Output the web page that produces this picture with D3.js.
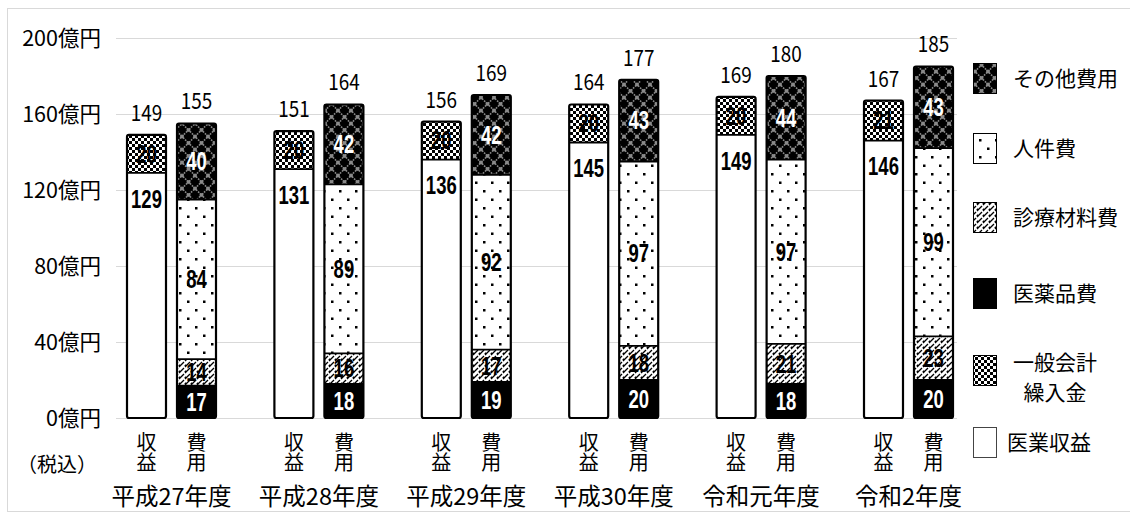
<!DOCTYPE html>
<html lang="ja">
<head>
<meta charset="utf-8">
<script src="https://cdn.jsdelivr.net/npm/d3@7"></script>
<style>
  html, body { margin: 0; padding: 0; background: #fff; }
  svg { display: block; font-family: "Noto Sans CJK JP", "Noto Sans", sans-serif; }
</style>
</head>
<body>
<svg id="chart" width="1130" height="516"></svg>
<script>
// 年度別 収益・費用の内訳（億円、税込）
const years = ["平成27年度", "平成28年度", "平成29年度", "平成30年度", "令和元年度", "令和2年度"];
const barKinds = ["収益", "費用"];

// 収益の内訳
const iryoShueki = [129, 131, 136, 145, 149, 146];   // 医業収益
const ippanKuriire = [20, 20, 20, 20, 20, 21];       // 一般会計繰入金
const shuekiTotal = [149, 151, 156, 164, 169, 167];

// 費用の内訳
const iyakuhin = [17, 18, 19, 20, 18, 20];           // 医薬品費
const shinryoZairyo = [14, 16, 17, 18, 21, 23];      // 診療材料費
const jinken = [84, 89, 92, 97, 97, 99];             // 人件費
const sonota = [40, 42, 42, 43, 44, 43];             // その他費用
const hiyoTotal = [155, 164, 169, 177, 180, 185];

const yTicks = [0, 40, 80, 120, 160, 200];

const svg = d3.select("#chart");
const defs = svg.append("defs");

// ---- fill patterns ----
// 一般会計繰入金: fine checkerboard
const pChk = defs.append("pattern").attr("id", "pChk").attr("patternUnits", "userSpaceOnUse")
  .attr("width", 6).attr("height", 6);
pChk.append("rect").attr("width", 6).attr("height", 6).attr("fill", "#fff");
pChk.append("rect").attr("width", 3).attr("height", 3).attr("fill", "#000");
pChk.append("rect").attr("x", 3).attr("y", 3).attr("width", 3).attr("height", 3).attr("fill", "#000");

// 人件費: sparse staggered dots
const pDot = defs.append("pattern").attr("id", "pDot").attr("patternUnits", "userSpaceOnUse")
  .attr("width", 16).attr("height", 17);
pDot.append("rect").attr("width", 16).attr("height", 17).attr("fill", "#fff");
pDot.append("rect").attr("x", 3).attr("y", 3).attr("width", 2.5).attr("height", 2.5).attr("fill", "#000");
pDot.append("rect").attr("x", 11).attr("y", 11.5).attr("width", 2.5).attr("height", 2.5).attr("fill", "#000");

// 診療材料費: dashed diagonal hatch
const pHat = defs.append("pattern").attr("id", "pHat").attr("patternUnits", "userSpaceOnUse")
  .attr("width", 6).attr("height", 6);
pHat.append("rect").attr("width", 6).attr("height", 6).attr("fill", "#fff");
pHat.append("path").attr("d", "M0,6 L4,2 M5,1 L6,0 M-1,1 L1,-1 M4,7 L7,4")
  .attr("stroke", "#000").attr("stroke-width", 1.3);

// その他費用: black with grey diamond lattice
const pDia = defs.append("pattern").attr("id", "pDia").attr("patternUnits", "userSpaceOnUse")
  .attr("width", 13).attr("height", 13);
pDia.append("rect").attr("width", 13).attr("height", 13).attr("fill", "#000");
pDia.append("path").attr("d", "M0,6.5 L6.5,0 L13,6.5 L6.5,13 Z")
  .attr("fill", "none").attr("stroke", "#8a8a8a").attr("stroke-width", 1.6)
  .attr("stroke-dasharray", "1.6,1.2");
[[0, 6.5], [13, 6.5], [6.5, 0], [6.5, 13]].forEach(([cx, cy]) =>
  pDia.append("rect").attr("x", cx - 1.8).attr("y", cy - 1.8).attr("width", 3.6).attr("height", 3.6)
    .attr("fill", "#8a8a8a"));

const fills = {
  "医業収益": "#fff",
  "一般会計繰入金": "url(#pChk)",
  "医薬品費": "#000",
  "診療材料費": "url(#pHat)",
  "人件費": "url(#pDot)",
  "その他費用": "url(#pDia)"
};
const whiteText = new Set(["医薬品費", "その他費用"]);

// ---- frame ----
svg.append("rect").attr("x", 7.5).attr("y", 8.5).attr("width", 1140).attr("height", 503)
  .attr("fill", "none").attr("stroke", "#d9d9d9");

// ---- scales ----
const y = d3.scaleLinear().domain([0, 200]).range([418, 38]);
const x = d3.scaleBand().domain(years).range([97.8, 982.2]);
const xs = d3.scaleBand().domain(barKinds).range([-44.5, 44.5]).paddingInner(0.22);
const gridL = 116, gridR = 957;

// ---- gridlines ----
svg.append("g").selectAll("line").data(yTicks).join("line")
  .attr("x1", gridL).attr("x2", gridR)
  .attr("y1", d => Math.round(y(d)) + 0.5).attr("y2", d => Math.round(y(d)) + 0.5)
  .attr("stroke", "#d9d9d9").attr("stroke-width", 1);

// ---- y axis labels ----
const yAxis = d3.axisLeft(y).tickValues(yTicks).tickSize(0).tickPadding(0)
  .tickFormat(d => d + "億円");
const gy = svg.append("g").attr("transform", "translate(101,0)").call(yAxis);
gy.select(".domain").remove();
gy.selectAll("text").attr("font-size", 21.5).attr("fill", "#000")
  .attr("font-family", "'Noto Sans CJK JP', sans-serif").attr("dy", "0.36em");

// ---- stacked bars ----
const segs = [];
years.forEach((yr, i) => {
  const stacks = {
    "収益": [["医業収益", iryoShueki[i]], ["一般会計繰入金", ippanKuriire[i]]],
    "費用": [["医薬品費", iyakuhin[i]], ["診療材料費", shinryoZairyo[i]], ["人件費", jinken[i]], ["その他費用", sonota[i]]]
  };
  barKinds.forEach(k => {
    let base = 0;
    stacks[k].forEach(([name, v]) => {
      segs.push({ yr, k, name, v, y0: base, y1: base + v });
      base += v;
    });
  });
});

const barX = d => x(d.yr) + x.bandwidth() / 2 + xs(d.k);
const gBars = svg.append("g");
gBars.selectAll("rect").data(segs).join("rect")
  .attr("x", d => barX(d))
  .attr("width", xs.bandwidth())
  .attr("y", d => y(d.y1))
  .attr("height", d => y(d.y0) - y(d.y1))
  .attr("fill", d => fills[d.name]);

// bar outlines and segment dividers
const outlines = [];
years.forEach((yr, i) => {
  const s1 = iryoShueki[i] + ippanKuriire[i];
  const s2 = iyakuhin[i] + shinryoZairyo[i] + jinken[i] + sonota[i];
  outlines.push({ yr, k: "収益", top: s1, label: shuekiTotal[i], segs: [iryoShueki[i]] });
  outlines.push({ yr, k: "費用", top: s2, label: hiyoTotal[i], segs: [iyakuhin[i], iyakuhin[i] + shinryoZairyo[i], iyakuhin[i] + shinryoZairyo[i] + jinken[i]] });
});
gBars.selectAll("line.div").data(outlines.flatMap(o => o.segs.map(v => ({ ...o, v })))).join("line")
  .attr("class", "div")
  .attr("x1", d => barX(d)).attr("x2", d => barX(d) + xs.bandwidth())
  .attr("y1", d => y(d.v)).attr("y2", d => y(d.v))
  .attr("stroke", "#000").attr("stroke-width", 1.8);
gBars.selectAll("rect.out").data(outlines).join("rect")
  .attr("class", "out")
  .attr("x", d => barX(d))
  .attr("width", xs.bandwidth())
  .attr("y", d => y(d.top))
  .attr("height", d => y(0) - y(d.top))
  .attr("rx", 2)
  .attr("fill", "none").attr("stroke", "#000").attr("stroke-width", 2.2);

// ---- segment value labels (bold, condensed) ----
const gLab = svg.append("g");
gLab.selectAll("text").data(segs).join("text")
  .attr("transform", d => {
    const cx = barX(d) + xs.bandwidth() / 2;
    const cy = d.name === "医業収益" ? y(d.y1) + 26 : (y(d.y0) + y(d.y1)) / 2;
    return `translate(${cx},${cy}) scale(0.74,1)`;
  })
  .attr("text-anchor", "middle").attr("dy", "0.35em")
  .attr("font-family", "'Liberation Sans', Arial, sans-serif")
  .attr("font-size", 25).attr("font-weight", "bold")
  .attr("fill", d => whiteText.has(d.name) ? "#fff" : "#000")
  .text(d => d.v);

// ---- totals above bars ----
gLab.selectAll("text.tot").data(outlines).join("text")
  .attr("class", "tot")
  .attr("transform", d => `translate(${barX(d) + xs.bandwidth() / 2},${y(d.top) - 22}) scale(0.86,1)`)
  .attr("text-anchor", "middle").attr("dy", "0.36em")
  .attr("font-size", 22).attr("fill", "#000")
  .text(d => d.label);

// ---- x labels ----
const gX = svg.append("g").attr("font-size", 20).attr("fill", "#000");
years.forEach(yr => {
  barKinds.forEach(k => {
    const cx = x(yr) + x.bandwidth() / 2 + xs(k) + xs.bandwidth() / 2;
    gX.append("text")
      .attr("transform", `translate(${cx},432)`)
      .style("writing-mode", "vertical-rl")
      .attr("text-anchor", "start")
      .text(k);
  });
  gX.append("text").attr("x", x(yr) + x.bandwidth() / 2).attr("y", 497).attr("dy", "0.36em")
    .attr("text-anchor", "middle").attr("font-size", 23.5).text(yr);
});
gX.append("text").attr("x", 57).attr("y", 465).attr("dy", "0.36em")
  .attr("text-anchor", "middle").attr("font-size", 20).text("（税込）");

// ---- legend ----
const legendItems = [
  { name: "その他費用", lines: ["その他費用"], top: 63, tx: 1013 },
  { name: "人件費", lines: ["人件費"], top: 133, tx: 1013 },
  { name: "診療材料費", lines: ["診療材料費"], top: 202, tx: 1013 },
  { name: "医薬品費", lines: ["医薬品費"], top: 278, tx: 1013 },
  { name: "一般会計繰入金", lines: ["一般会計", "繰入金"], top: 355, tx: 1013 },
  { name: "医業収益", lines: ["医業収益"], top: 427, tx: 1007 }
];
const gL = svg.append("g").attr("font-size", 21).attr("fill", "#000");
legendItems.forEach(it => {
  gL.append("rect").attr("x", 973.5).attr("y", it.top + 0.5).attr("width", 23).attr("height", 30)
    .attr("fill", fills[it.name]).attr("stroke", it.name === "医業収益" ? "#444" : "#000").attr("stroke-width", 1);
  if (it.lines.length === 1) {
    gL.append("text").attr("x", it.tx).attr("y", it.top + 15).attr("dy", "0.36em").text(it.lines[0]);
  } else {
    gL.append("text").attr("x", it.tx).attr("y", it.top + 7).attr("dy", "0.36em").text(it.lines[0]);
    gL.append("text").attr("x", it.tx + 42).attr("y", it.top + 37).attr("dy", "0.36em")
      .attr("text-anchor", "middle").text(it.lines[1]);
  }
});
</script>
</body>
</html>
